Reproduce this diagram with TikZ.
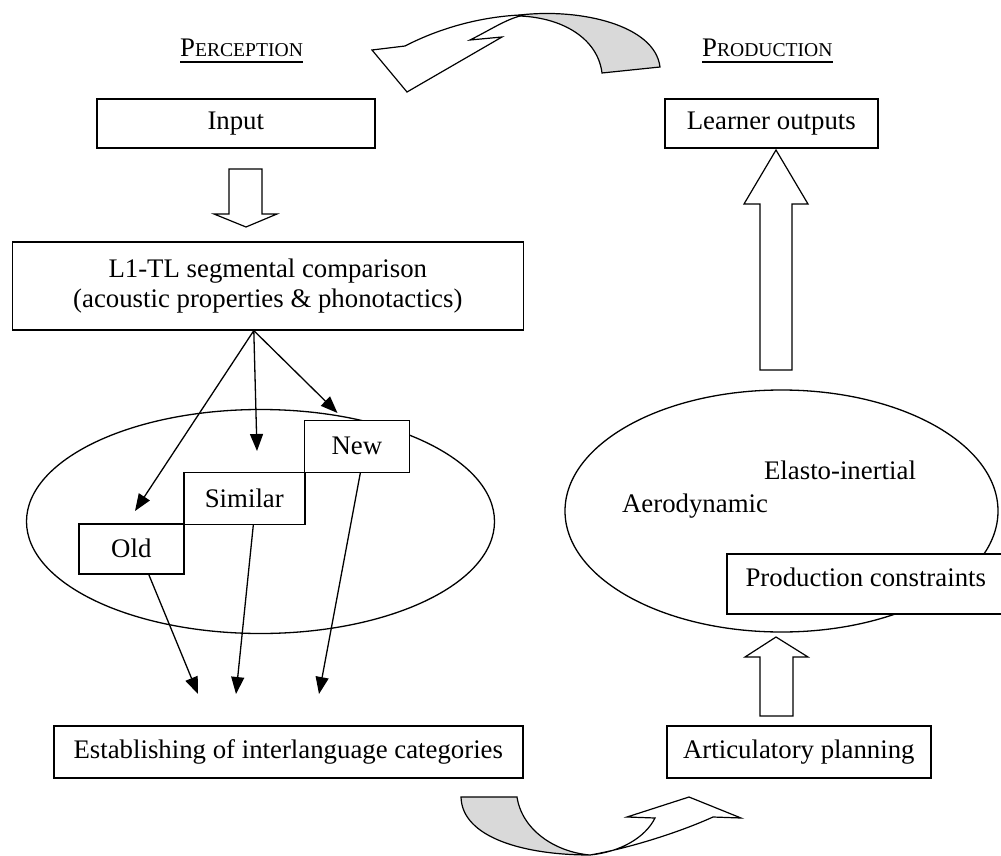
\documentclass[tikz,border=0pt]{standalone}
\usepackage{fontspec}
\setmainfont{Liberation Serif}
\usetikzlibrary{arrows.meta,calc,shapes.geometric}
\begin{document}
\begin{tikzpicture}[x=1pt,y=-1pt,
  txt/.style={font=\fontsize{26.8}{30}\selectfont, inner sep=0pt},
  box/.style={draw, line width=1.6pt, fill=white, txt, anchor=north west, align=center},
  conn/.style={line width=1.3pt, -{Triangle[length=17pt,width=13pt]}},
  fat/.style={draw, line width=1.2pt, fill=white, line join=miter},
  band/.style={draw, line width=1.2pt, fill=black!15},
  oval/.style={draw, line width=1.3pt, ellipse, inner sep=0pt},
  lbl/.style={txt, anchor=base west}]
\useasboundingbox (0,0) rectangle (1001,856);
% ellipses
\node[oval, minimum width=468, minimum height=224] (cats) at (260.5,521.5) {};
\node[oval, minimum width=433, minimum height=242] (constr) at (781.5,511) {};
% titles
\node[lbl] (perc) at (180,57) {P{\fontsize{19.6}{22}\selectfont ERCEPTION}};
\draw[line width=2pt] (perc.west |- 0,62) -- (perc.east |- 0,62);
\node[lbl] (prod) at (702,57) {P{\fontsize{19.6}{22}\selectfont RODUCTION}};
\draw[line width=2pt] (prod.west |- 0,62) -- (prod.east |- 0,62);
% boxes
\node[box, minimum width=278, minimum height=49] (input) at (96,98) {Input};
\node[box, minimum width=213, minimum height=49] (learn) at (664,98) {Learner outputs};
\node[box, minimum width=511, minimum height=88] (l1tl) at (11.5,241) {L1-TL segmental comparison\\(acoustic properties \& phonotactics)};
\node[box, minimum width=105, minimum height=52] (new) at (303.5,419.5) {New};
\node[box, minimum width=121, minimum height=52] (sim) at (183,471.5) {Similar};
\node[box, minimum width=105, minimum height=50] (old) at (78,523) {Old};
\node[box, minimum width=469, minimum height=52] (estab) at (53,725) {Establishing of interlanguage categories};
\node[box, minimum width=264, minimum height=52] (artic) at (666,725) {Articulatory planning};
\node[box, minimum width=278, minimum height=60, text height=18pt, text depth=12pt] (pcon) at (726,553) {Production constraints};
\node[txt] (elasto) at (840,470) {Elasto-inertial};
\node[txt] (aero) at (695,506) {Aerodynamic};
% thin arrows
\coordinate (o) at ([xshift=-14pt]l1tl.south);
\coordinate (toold) at (135,511);
\coordinate (tosim) at (257,451);
\coordinate (tonew) at (337.5,413);
\coordinate (e1) at (198,694);
\coordinate (e2) at (236,694);
\coordinate (e3) at (319,694);
\draw[conn] (o) -- (toold);
\draw[conn] (o) -- (tosim);
\draw[conn] (o) -- (tonew);
\draw[conn] ([xshift=17.5pt]old.south) -- (e1);
\draw[conn] ([xshift=9pt]sim.south) -- (e2);
\draw[conn] ([xshift=3.5pt]new.south) -- (e3);
% block arrows
\path[fat] (229,169) -- (262,169) -- (262,214) -- (277,214) -- (246,227) -- (214,214) -- (229,214) -- cycle;
\path[fat] (760,370) -- (792,370) -- (792,204) -- (808,204) -- (776,150) -- (744,204) -- (760,204) -- cycle;
\path[fat] (760,716) -- (793,716) -- (793,657) -- (808,657) -- (776,637) -- (745,657) -- (760,657) -- cycle;
% top curved arrow
\path[band] (520,15) .. controls (580,8) and (655,25) .. (660,67) -- (602,73) .. controls (598,40) and (565,18) .. (520,16) -- cycle;
\path[fat] (520,15) .. controls (480,17) and (440,28) .. (405,46) -- (372,50) -- (407,92) -- (502,37) -- (470,40) .. controls (490,30) and (505,20) .. (520,16) -- cycle;
% bottom curved arrow
\path[band] (461,797) -- (517,797) .. controls (522,830) and (555,852) .. (590,855) .. controls (525,855) and (462,838) .. (461,797) -- cycle;
\path[fat] (590,855) .. controls (630,848) and (680,832) .. (713,817) -- (741,818) -- (689,797) -- (627,817) -- (655,818) .. controls (645,838) and (620,852) .. (590,855) -- cycle;
\end{tikzpicture}
\end{document}
